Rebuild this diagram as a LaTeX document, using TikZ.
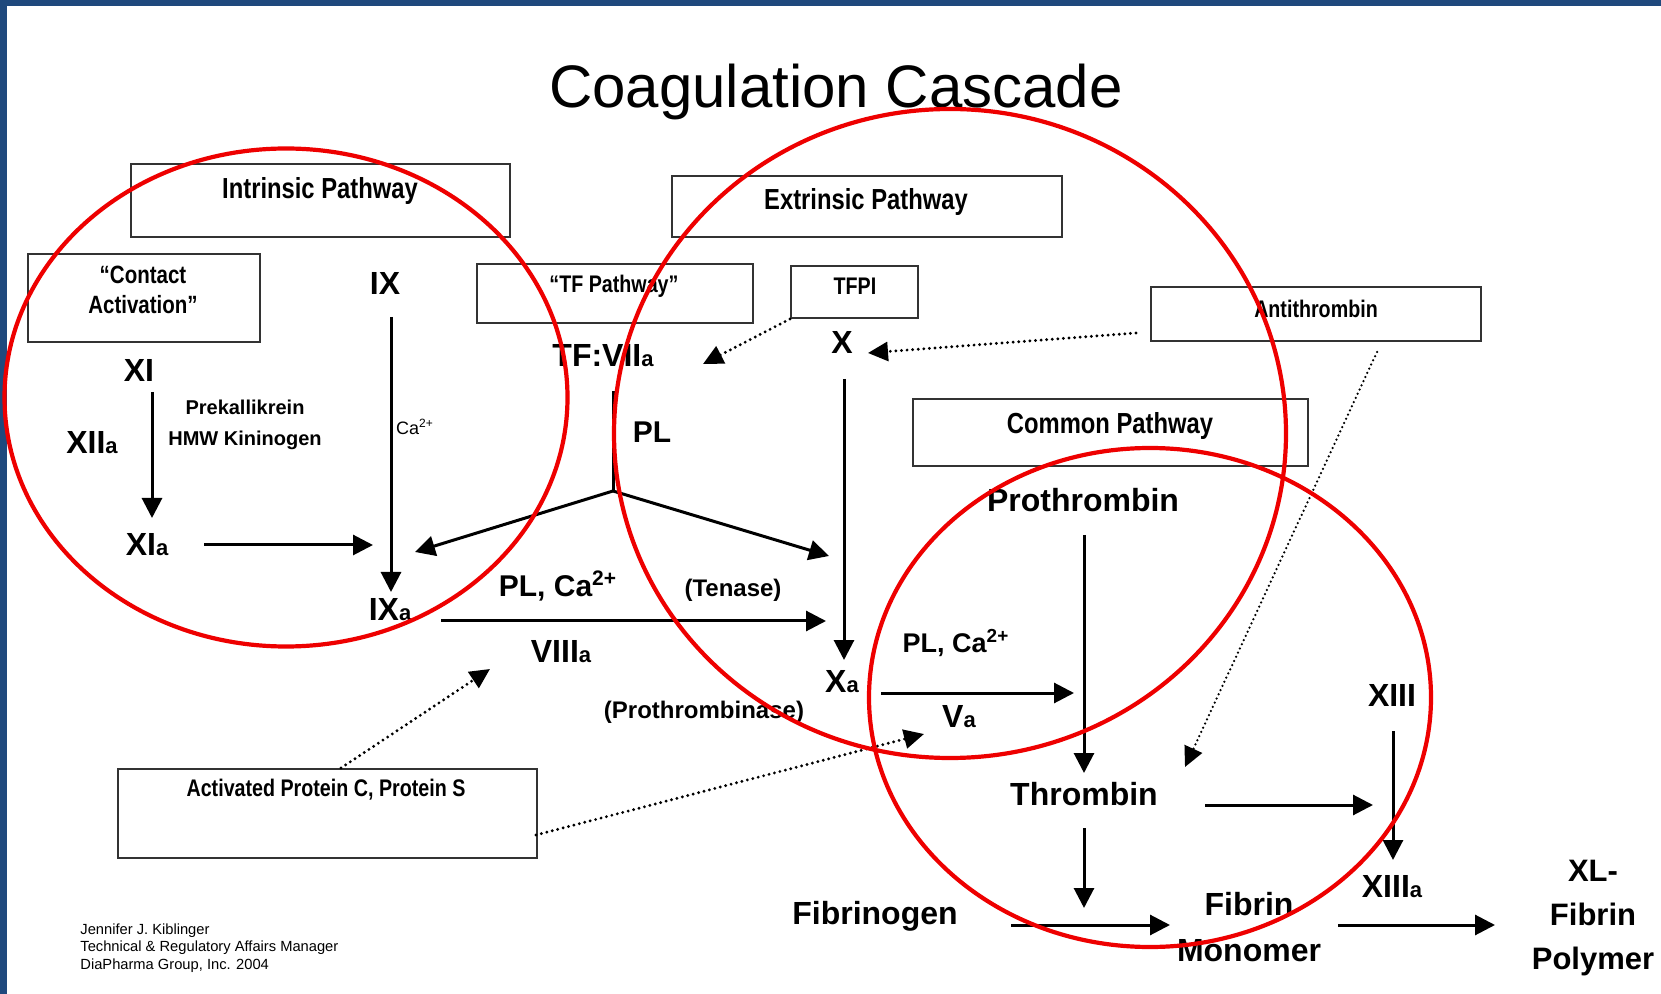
\documentclass[tikz,border=0pt]{standalone}
\usepackage{fontspec}
\setmainfont{Liberation Sans}
\newfontfamily\condfont[FakeStretch=0.82]{Liberation Sans}
\usetikzlibrary{arrows.meta}
\newcommand\subA{{\fontsize{11}{11}\selectfont a}}
\definecolor{frameblue}{RGB}{31,73,125}
\definecolor{circred}{RGB}{238,0,0}
\begin{document}
\begin{tikzpicture}[x=0.5pt,y=-0.5pt,
  box/.style={draw=black!80,line width=1pt,inner sep=0pt},
  bigboxtxt/.style={inner sep=0pt,font=\condfont\bfseries\fontsize{14.5}{15}\selectfont},
  smallboxtxt/.style={inner sep=0pt,font=\condfont\bfseries\fontsize{12}{15}\selectfont},
  lbl/.style={inner sep=0pt,font=\bfseries\fontsize{16}{16}\selectfont},
  midlbl/.style={inner sep=0pt,font=\bfseries\fontsize{15}{15}\selectfont},
  smlbl/.style={inner sep=0pt,font=\bfseries\fontsize{12}{12}\selectfont},
  arr/.style={line width=1.5pt,-{Triangle[length=10pt,width=10pt]}},
  plain/.style={line width=1.5pt},
  dotarr/.style={line width=1.6pt,dash pattern=on 0pt off 2.8pt,line cap=round,-{Triangle[length=10pt,width=9.5pt]}},
  fdotarr/.style={line width=1.25pt,dash pattern=on 0pt off 2.3pt,line cap=round,-{Triangle[length=10pt,width=9.5pt]}},
  redc/.style={draw=circred,line width=2.1pt}]
\useasboundingbox (0,0) rectangle (1661,994);
\fill[white] (0,0) rectangle (1661,994);
\fill[frameblue] (0,0) rectangle (1661,6);
\fill[frameblue] (0,0) rectangle (7,994);

% title
\node[inner sep=0pt,font=\fontsize{30}{30}\selectfont] (title) at (836,92) {Coagulation Cascade};

% boxes
\node[box,minimum width=189.5pt,minimum height=36.5pt] (intrbox) at (320.5,200.5) {};
\node[bigboxtxt] (intr) at (320,191) {Intrinsic Pathway};
\node[box,minimum width=116pt,minimum height=44pt] (contbox) at (143.5,298) {};
\node[smallboxtxt,align=center,font=\condfont\bfseries\fontsize{12.5}{15}\selectfont] (cont) at (143,290) {“Contact\\Activation”};
\node[box,minimum width=138pt,minimum height=29.5pt] (tfbox) at (615,293.5) {};
\node[smallboxtxt] (tf) at (614,286) {“TF Pathway”};
\node[box,minimum width=63.5pt,minimum height=26pt] (tfpibox) at (854.5,292) {};
\node[smallboxtxt] (tfpi) at (855,286) {TFPI};
\node[box,minimum width=195pt,minimum height=30.5pt] (extrbox) at (867,206.5) {};
\node[bigboxtxt] (extr) at (866,202) {Extrinsic Pathway};
\node[box,minimum width=165pt,minimum height=27pt] (atbox) at (1316,314) {};
\node[smallboxtxt] (at) at (1316,309) {Antithrombin};
\node[box,minimum width=197.5pt,minimum height=33.5pt] (commbox) at (1110.5,432.5) {};
\node[bigboxtxt] (comm) at (1110,426) {Common Pathway};
\node[box,minimum width=209.5pt,minimum height=44.5pt] (apcbox) at (327.5,813.5) {};
\node[smallboxtxt] (apc) at (326,790) {Activated Protein C, Protein S};

% labels
\node[lbl] (XI) at (139,370) {XI};
\node[lbl] (IX) at (385,283) {IX};
\node[lbl] (XIIa) at (92,443) {XII\subA};
\node[lbl] (XIa) at (147,545) {XI\subA};
\node[lbl] (IXa) at (390,610) {IX\subA};
\node[inner sep=0pt,align=center,font=\bfseries\fontsize{10}{15.5}\selectfont] (prek) at (245,424.5) {Prekallikrein\\HMW Kininogen};
\node[inner sep=0pt,font=\fontsize{9}{9}\selectfont] (ca1) at (415,427) {Ca\textsuperscript{2+}};
\node[lbl] (TFVIIa) at (603,356) {TF:VII\subA};
\node[lbl] (X) at (842,342) {X};
\node[midlbl] (PL) at (652,432) {PL};
\node[lbl] (proth) at (1083,500) {Prothrombin};
\node[midlbl] (plca1) at (558,586) {PL, Ca\textsuperscript{2+}};
\node[smlbl] (tenase) at (733,590) {(Tenase)};
\node[lbl] (VIIIa) at (561,652) {VIII\subA};
\node[lbl] (Xa) at (842,682) {X\subA};
\node[inner sep=0pt,font=\bfseries\fontsize{13.5}{13.5}\selectfont] (plca2) at (956,643) {PL, Ca\textsuperscript{2+}};
\node[lbl] (Va) at (959,717) {V\subA};
\node[smlbl] (prothase) at (704,712) {(Prothrombinase)};
\node[lbl] (thromb) at (1084,794) {Thrombin};
\node[lbl] (XIII) at (1392,695) {XIII};
\node[lbl] (XIIIa) at (1392,887) {XIII\subA};
\node[lbl] (fibrinogen) at (875,916) {Fibrinogen};
\node[lbl,align=center,font=\bfseries\fontsize{16}{23}\selectfont] (fibmono) at (1249,927) {Fibrin\\Monomer};
\node[lbl,align=center,font=\bfseries\fontsize{15.5}{22}\selectfont] (xlfib) at (1593,918.5) {XL-\\Fibrin\\Polymer};
\node[inner sep=0pt,anchor=west,align=left,font=\fontsize{7.35}{8.75}\selectfont] (author) at (80,948) {Jennifer J. Kiblinger\\Technical \& Regulatory Affairs Manager\\DiaPharma Group, Inc. 2004};

% connector end points
\coordinate (xiS) at (152,392);   \coordinate (xiaN) at (152,518);
\coordinate (ixS) at (391,317);   \coordinate (ixaN) at (391,592);
\coordinate (xiaE) at (204,545);  \coordinate (ixaW) at (373,545);
\coordinate (plTop) at (613,391); \coordinate (plFork) at (613,491);
\coordinate (plL) at (415,552);   \coordinate (plR) at (829,556);
\coordinate (tfviiaE) at (703,364);
\coordinate (atW) at (1136,333);  \coordinate (xE) at (868,353);
\coordinate (xS) at (844,379);    \coordinate (xaN) at (844,660);
\coordinate (tenW) at (441,621);  \coordinate (tenE) at (826,621);
\coordinate (xaE) at (881,693);   \coordinate (vaE) at (1074,693);
\coordinate (prS) at (1084,535);  \coordinate (thN) at (1084,773);
\coordinate (apcN) at (341,768);  \coordinate (viiiaS) at (490,669);
\coordinate (apcE) at (536,835);  \coordinate (vaS) at (924,734);
\coordinate (atS) at (1377,352);  \coordinate (thE) at (1185,767);
\coordinate (thR1) at (1205,805); \coordinate (thR2) at (1373,805);
\coordinate (thS) at (1084,828);  \coordinate (fmN) at (1084,908);
\coordinate (xiiiS) at (1393,731); \coordinate (xiiiaN) at (1393,860);
\coordinate (fgE) at (1011,925);  \coordinate (fmW) at (1170,925);
\coordinate (fmE) at (1338,925);  \coordinate (xlW) at (1495,925);

% connectors
\draw[arr] (xiS) -- (xiaN);
\draw[arr] (ixS) -- (ixaN);
\draw[arr] (xiaE) -- (ixaW);
\draw[plain] (plTop) -- (plFork);
\draw[arr] (plFork) -- (plL);
\draw[arr] (plFork) -- (plR);
\draw[dotarr] (tfpibox.south west) -- (tfviiaE);
\draw[dotarr] (atW) -- (xE);
\draw[arr] (xS) -- (xaN);
\draw[arr] (tenW) -- (tenE);
\draw[arr] (xaE) -- (vaE);
\draw[arr] (prS) -- (thN);
\draw[dotarr] (apcN) -- (viiiaS);
\draw[dotarr] (apcE) -- (vaS);
\draw[fdotarr] (atS) -- (thE);
\draw[arr] (thR1) -- (thR2);
\draw[arr] (thS) -- (fmN);
\draw[arr] (xiiiS) -- (xiiiaN);
\draw[arr] (fgE) -- (fmW);
\draw[arr] (fmE) -- (xlW);

% red circles
\draw[redc] (286,397.5) ellipse [x radius=140.75pt,y radius=124.5pt];
\draw[redc] (950,433.5) ellipse [x radius=168pt,y radius=162.25pt];
\draw[redc] (1150,697.5) ellipse [x radius=140.5pt,y radius=124.75pt];
\end{tikzpicture}
\end{document}
